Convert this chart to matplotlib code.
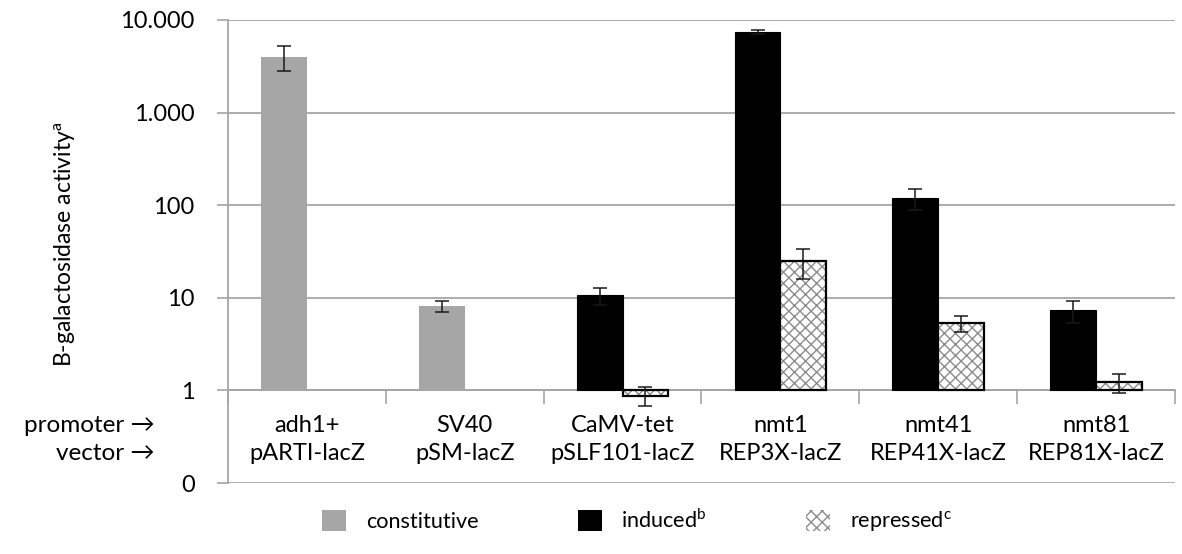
import numpy as np
import matplotlib
matplotlib.use("Agg")
import matplotlib.pyplot as plt
from matplotlib.patches import Patch

plt.rcParams['font.family'] = ['Lato', 'DejaVu Sans']

promoters = ["adh1+", "SV40", "CaMV-tet", "nmt1", "nmt41", "nmt81"]
vectors = ["pARTI-lacZ", "pSM-lacZ", "pSLF101-lacZ", "REP3X-lacZ", "REP41X-lacZ", "REP81X-lacZ"]
constitutive = [4000, 8.15, np.nan, np.nan, np.nan, np.nan]
constitutive_err = [1180, 1.2, np.nan, np.nan, np.nan, np.nan]
induced = [np.nan, np.nan, 10.6, 7360, 120, 7.3]
induced_err = [np.nan, np.nan, 2.3, 380, 31, 1.9]
repressed = [np.nan, np.nan, 0.88, 25, 5.3, 1.22]
repressed_err = [np.nan, np.nan, 0.2, 9, 1.0, 0.29]
ytick_vals = [0.1, 1, 10, 100, 1000, 10000]
ytick_labels = ["0", "1", "10", "100", "1.000", "10.000"]

GRID = "#a6a6a6"
GRAY = "#a6a6a6"
HATCH = "#8c8c8c"
FS = 17

fig = plt.figure(figsize=(11.82, 5.54), dpi=100)
ax = fig.add_axes([228/1182, 1-483/554, (1175-228)/1182, (483-20)/554])

x = np.arange(len(promoters))
w = 0.29
c = np.array(constitutive, float)
i = np.array(induced, float)
r = np.array(repressed, float)

ax.set_yscale('log')
ax.set_ylim(0.1, 10000)
ax.set_xlim(-0.5, len(promoters) - 0.5)

plt.rcParams['hatch.linewidth'] = 1.0
ax.bar(x - w/2, c - 1, bottom=1, width=w, color=GRAY, edgecolor='none', zorder=3)
ax.bar(x - w/2, i - 1, bottom=1, width=w, color='black', edgecolor='black', linewidth=0.8, zorder=3)
ax.bar(x + w/2, r - 1, bottom=1, width=w, color='white', edgecolor=HATCH, hatch='xxx', linewidth=0, zorder=3)
ax.bar(x + w/2, r - 1, bottom=1, width=w, fill=False, edgecolor='black', linewidth=1.6, zorder=4)

ekw = dict(fmt='none', ecolor='#1a1a1a', elinewidth=1.1, capsize=4.8, capthick=1.1, zorder=5)
ax.errorbar(x - w/2, c, yerr=constitutive_err, **ekw)
ax.errorbar(x - w/2, i, yerr=induced_err, **ekw)
ax.errorbar(x + w/2, r, yerr=repressed_err, **ekw)

# axes styling
ax.set_yticks(ytick_vals)
ax.set_yticklabels(ytick_labels)
ax.yaxis.set_minor_locator(matplotlib.ticker.NullLocator())
ax.tick_params(axis='y', direction='out', length=8, width=1.2, color=GRID, labelsize=FS, pad=16)
ax.grid(axis='y', color=GRID, linewidth=1.3, zorder=0)
for s in ['top', 'right']:
    ax.spines[s].set_visible(False)
ax.spines['left'].set_color(GRID)
ax.spines['left'].set_linewidth(1.3)
ax.spines['bottom'].set_position(('data', 1))
ax.spines['bottom'].set_color(GRID)
ax.spines['bottom'].set_linewidth(1.3)
ax.spines['bottom'].set_zorder(2)

ax.set_xticks(np.arange(len(promoters) + 1) - 0.5)
ax.set_xticklabels([])
ax.tick_params(axis='x', which='major', direction='out', length=10, width=1.2, color=GRID)
ax.set_xticks(x, [f"{p}\n{v}" for p, v in zip(promoters, vectors)], minor=True)
ax.tick_params(axis='x', which='minor', length=0, pad=18, labelsize=FS)
for t in ax.get_xticklabels(minor=True):
    t.set_linespacing(1.38)

fig.text(65/1182, 1-244/554, "B-galactosidase activity$^{\\mathregular{a}}$", rotation=90,
         ha='center', va='center', fontsize=16.5)
fig.text(155/1182, 1-425/554, "promoter \u2192", ha='right', va='center', fontsize=17.5)
fig.text(155/1182, 1-454/554, "vector \u2192", ha='right', va='center', fontsize=17.5)

handles = [Patch(facecolor=GRAY, edgecolor='none'),
           Patch(facecolor='black', edgecolor='none'),
           Patch(facecolor='white', edgecolor=HATCH, hatch='xxx', linewidth=0)]
labels = ["constitutive", "induced$^{\\mathregular{b}}$", "repressed$^{\\mathregular{c}}$"]
fig.legend(handles, labels, loc='center', bbox_to_anchor=(637/1182, 1-521/554), ncol=3,
           frameon=False, fontsize=15.6, handlelength=1.1, handleheight=1.1,
           handletextpad=0.9, columnspacing=4.6)

fig.savefig("out.png", dpi=100)
